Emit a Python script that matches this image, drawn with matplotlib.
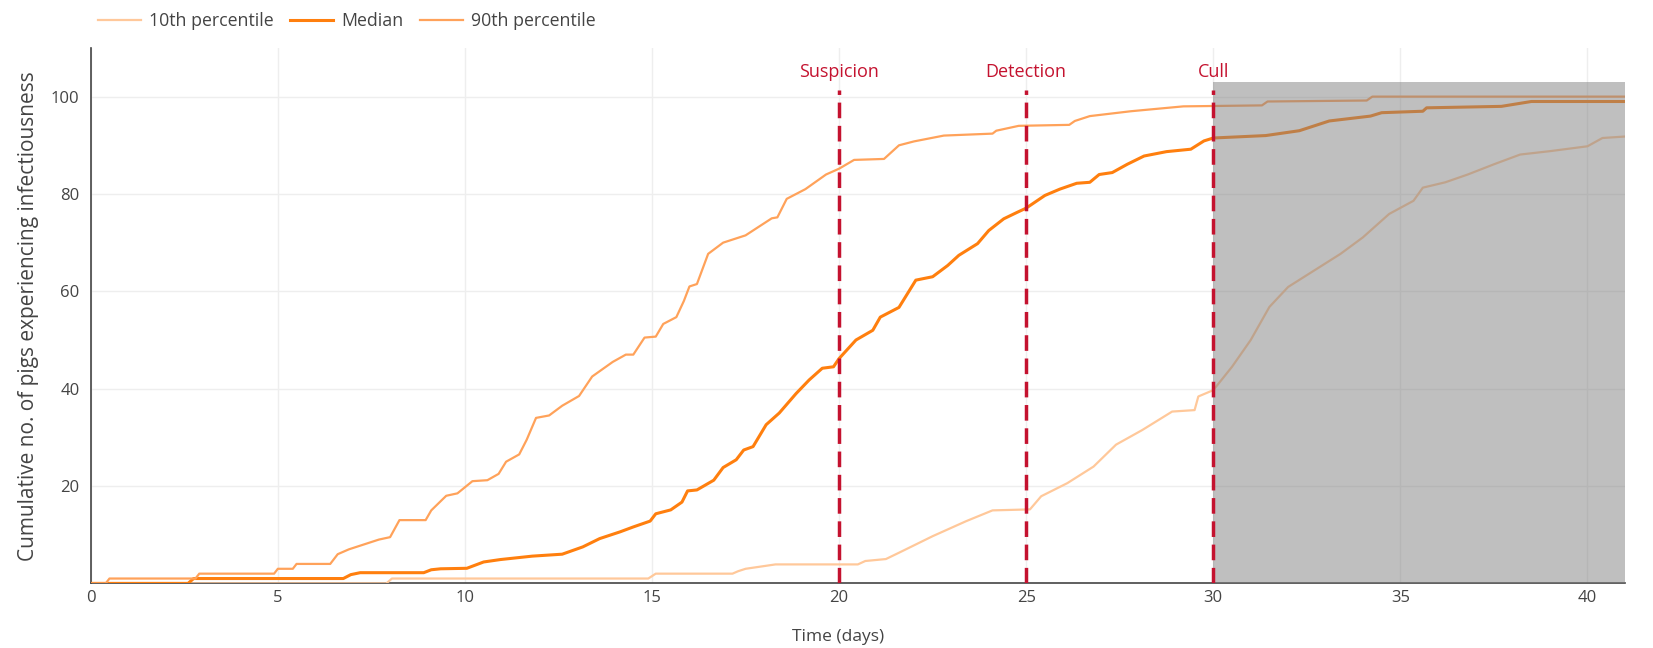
import matplotlib

matplotlib.use("Agg")
import matplotlib.pyplot as plt
from matplotlib.lines import Line2D
from matplotlib.patches import Rectangle

# percentile curves: (day, cumulative pigs)
p90_days = [0, 0.4, 0.5, 2.8, 2.9, 4.9, 5.0, 5.4, 5.5, 6.4, 6.6, 6.9, 7.3, 7.7, 8.0,
            8.25, 8.95, 9.1, 9.5, 9.8, 10.2, 10.6, 10.9, 11.1, 11.45, 11.65, 11.9,
            12.25, 12.6, 13.05, 13.4, 13.95, 14.3, 14.5, 14.8, 15.1, 15.3, 15.65,
            15.85, 16.0, 16.2, 16.5, 16.9, 17.3, 17.5, 17.8, 18.2, 18.35, 18.6, 19.1,
            19.65, 20.0, 20.4, 21.2, 21.6, 22.0, 22.8, 24.1, 24.2, 24.8, 26.15, 26.3,
            26.7, 27.8, 29.2, 31.3, 31.45, 34.1, 34.25, 41.0]
p90_vals = [0, 0, 1, 1, 2, 2, 3, 3, 4, 4, 6, 7, 8, 9, 9.5,
            13, 13, 15, 18, 18.5, 21, 21.2, 22.5, 25, 26.5, 29.5, 34,
            34.5, 36.5, 38.5, 42.5, 45.5, 47, 47, 50.5, 50.7, 53.3, 54.7,
            58, 61, 61.5, 67.7, 70, 71, 71.5, 73, 75, 75.2, 79, 81,
            84, 85.2, 87, 87.2, 90, 90.8, 92, 92.4, 93, 94, 94.2, 95,
            96, 97, 98, 98.2, 99, 99.2, 100, 100]

med_days = [0, 2.6, 2.75, 6.75, 6.95, 7.2, 8.9, 9.1, 9.35, 10.05, 10.5, 10.95, 11.8,
            12.6, 13.15, 13.6, 14.15, 14.5, 14.95, 15.1, 15.5, 15.8, 15.95, 16.2,
            16.65, 16.9, 17.25, 17.45, 17.7, 18.05, 18.4, 18.85, 19.2, 19.55, 19.85,
            20.0, 20.45, 20.9, 21.1, 21.6, 22.05, 22.5, 22.9, 23.2, 23.7, 24.0, 24.4,
            24.75, 25.0, 25.5, 25.9, 26.35, 26.7, 26.95, 27.3, 27.7, 28.15, 28.75,
            29.4, 29.75, 30.0, 31.4, 32.3, 33.1, 34.2, 34.5, 35.6, 35.7, 37.7, 38.5,
            41.0]
med_vals = [0, 0, 1, 1, 1.8, 2.2, 2.2, 2.8, 3, 3.1, 4.4, 4.9, 5.6,
            6, 7.5, 9.2, 10.6, 11.6, 12.8, 14.3, 15.1, 16.7, 19, 19.2,
            21.2, 23.8, 25.4, 27.4, 28.1, 32.6, 35, 39, 41.8, 44.2, 44.5,
            46.2, 50, 52, 54.7, 56.7, 62.3, 63, 65.3, 67.4, 69.8, 72.5, 74.9,
            76.2, 77.1, 79.7, 81, 82.2, 82.4, 84, 84.4, 86.1, 87.8, 88.7,
            89.2, 90.9, 91.5, 92, 93, 95, 96, 96.7, 97, 97.7, 98, 99,
            99]

p10_days = [0, 7.9, 8.05, 14.9, 15.1, 17.15, 17.3, 17.5, 18.3, 20.5, 20.7, 21.25,
            21.6, 22.5, 23.4, 24.1, 25.1, 25.4, 26.1, 26.8, 27.4, 28.1, 28.9, 29.5,
            29.6, 30.0, 30.5, 31.0, 31.5, 32.0, 32.7, 33.4, 34.0, 34.7, 35.35, 35.6,
            36.2, 36.8, 37.5, 38.2, 39.0, 40.0, 40.4, 41.0]
p10_vals = [0, 0, 1, 1, 2, 2, 2.5, 3, 3.9, 3.9, 4.6, 5,
            6.3, 9.7, 12.8, 15, 15.2, 17.9, 20.6, 24, 28.5, 31.5, 35.3, 35.6,
            38.4, 39.7, 44.5, 50, 56.8, 60.9, 64.3, 67.7, 71.1, 75.9, 78.6, 81.3,
            82.4, 84, 86.1, 88.1, 88.8, 89.8, 91.5, 91.8]

events = ["Suspicion", "Detection", "Cull"]
event_days = [20, 25, 30]

shade_start, shade_end, shade_top = 30, 41, 103

C10 = "#FFC89A"
CMED = "#FF7F0E"
C90 = "#FFA25A"
RED = "#C4122F"
TXT = "#444444"

plt.rcParams["font.family"] = ["Open Sans", "DejaVu Sans"]

fig = plt.figure(figsize=(16.53, 6.48), dpi=100)
ax = fig.add_axes([0.0549, 0.0997, 0.9281, 0.8263])

ax.plot(p10_days, p10_vals, color=C10, lw=1.6, zorder=3)
ax.plot(med_days, med_vals, color=CMED, lw=2.2, zorder=3)
ax.plot(p90_days, p90_vals, color=C90, lw=1.6, zorder=3)

# grey block after culling, drawn over the curves
ax.add_patch(Rectangle((shade_start, 0), shade_end - shade_start, shade_top,
                       facecolor="#808080", alpha=0.5, edgecolor="none", zorder=4))

for name, day in zip(events, event_days):
    ax.plot([day, day], [0, 101.3], color=RED, lw=2.5, dashes=(4.5, 2.2), zorder=5,
            solid_capstyle="butt", dash_capstyle="butt")
    ax.text(day, 103.3, name, color=RED, fontsize=13, ha="center", va="bottom")

ax.set_xlim(0, 41)
ax.set_ylim(0, 110)
ax.set_xticks(range(0, 41, 5))
ax.set_yticks([20, 40, 60, 80, 100])
ax.grid(color="#EEEEEE", lw=1.0, zorder=0)
ax.set_axisbelow(True)
ax.tick_params(length=0, labelsize=12, colors=TXT, pad=8)
ax.tick_params(axis="x", pad=5)
for side in ("top", "right"):
    ax.spines[side].set_visible(False)
for side in ("left", "bottom"):
    ax.spines[side].set_color(TXT)
    ax.spines[side].set_linewidth(1.2)

ax.set_xlabel("Time (days)", fontsize=12.5, color=TXT)
ax.xaxis.set_label_coords(0.487, -0.085)
ax.set_ylabel("Cumulative no. of pigs experiencing infectiousness", fontsize=15,
              color=TXT, labelpad=9)

handles = [Line2D([], [], color=C10, lw=1.6),
           Line2D([], [], color=CMED, lw=2.2),
           Line2D([], [], color=C90, lw=1.6)]
fig.legend(handles, ["10th percentile", "Median", "90th percentile"], ncol=3,
           loc="center left", bbox_to_anchor=(0.059, 0.968), frameon=False,
           fontsize=12.8, handlelength=2.45, handletextpad=0.45, columnspacing=0.9,
           borderpad=0, borderaxespad=0, labelcolor=TXT)

fig.savefig("out.png", dpi=100, facecolor="white")
